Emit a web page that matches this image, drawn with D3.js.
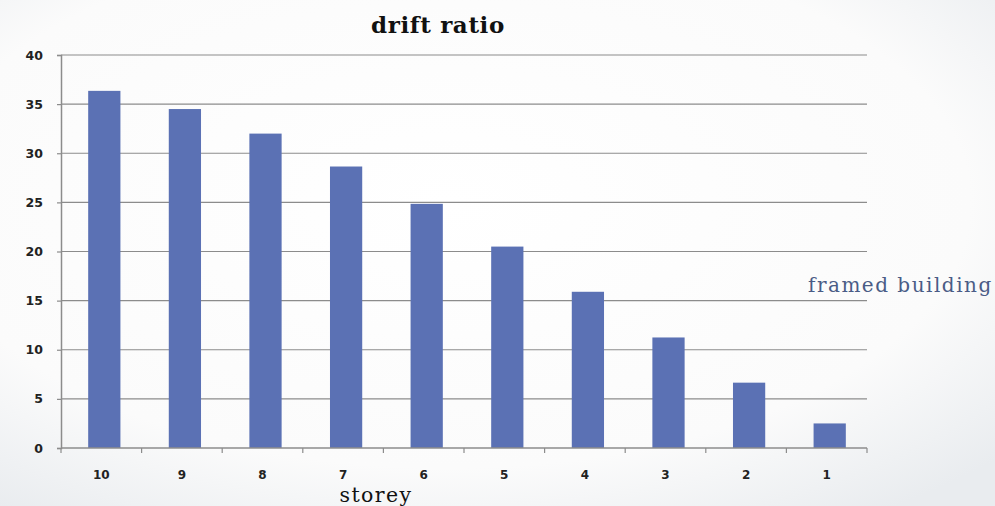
<!DOCTYPE html>
<html>
<head>
<meta charset="utf-8">
<script src="https://cdn.jsdelivr.net/npm/d3@7/dist/d3.min.js"></script>
<style>
  body { margin: 0; overflow: hidden; }
  #viz { width: 995px; height: 506px; }
</style>
</head>
<body>
<div id="viz"></div>
<script>
var storeys = ['10', '9', '8', '7', '6', '5', '4', '3', '2', '1'];
var driftValues = [36.35, 34.5, 32.0, 28.65, 24.85, 20.5, 15.9, 11.25, 6.65, 2.5];
var yTicks = [0, 5, 10, 15, 20, 25, 30, 35, 40];

function makeChart() {
    var width = 995;
    var height = 506;
    var margin = { top: 55, right: 128, bottom: 58, left: 61 };

    var svg = d3.select('#viz')
        .append('svg')
        .attr('width', width)
        .attr('height', height);

    // slide background, light grey toward the edges
    var defs = svg.append('defs');
    var grad = defs.append('radialGradient')
        .attr('id', 'bg')
        .attr('cx', '45%').attr('cy', '40%').attr('r', '75%');
    grad.append('stop').attr('offset', '0%').attr('stop-color', '#ffffff');
    grad.append('stop').attr('offset', '70%').attr('stop-color', '#fbfbfb');
    grad.append('stop').attr('offset', '100%').attr('stop-color', '#e9ecef');
    svg.append('rect')
        .attr('width', width).attr('height', height)
        .attr('fill', 'url(#bg)');

    var plotW = width - margin.left - margin.right;
    var plotH = height - margin.top - margin.bottom;

    var g = svg.append('g')
        .attr('transform', 'translate(' + margin.left + ',' + margin.top + ')');

    var x = d3.scaleBand()
        .domain(storeys)
        .range([0, plotW])
        .paddingInner(0.6)
        .paddingOuter(0.3);

    var y = d3.scaleLinear()
        .domain([0, 40])
        .range([plotH, 0]);

    // gridlines
    g.selectAll('line.grid')
        .data(yTicks.filter(function (d) { return d > 0; }))
        .enter()
        .append('line')
        .attr('class', 'grid')
        .attr('x1', 0)
        .attr('x2', plotW)
        .attr('y1', function (d) { return y(d); })
        .attr('y2', function (d) { return y(d); })
        .attr('stroke', '#8c8c8c')
        .attr('stroke-width', 1.2);

    // bars
    g.selectAll('rect.bar')
        .data(driftValues)
        .enter()
        .append('rect')
        .attr('class', 'bar')
        .attr('x', function (d, i) { return x(storeys[i]) + 3; })
        .attr('y', function (d) { return y(d); })
        .attr('width', x.bandwidth())
        .attr('height', function (d) { return plotH - y(d); })
        .attr('fill', '#5b71b4');

    // y axis
    var yAxis = g.append('g')
        .call(d3.axisLeft(y).tickValues(yTicks).tickSize(4).tickPadding(14));
    yAxis.select('.domain').attr('stroke', '#8c8c8c').attr('stroke-width', 1.5);
    yAxis.selectAll('.tick line').attr('stroke', '#8c8c8c').attr('stroke-width', 1.2);
    yAxis.selectAll('.tick text')
        .attr('font-family', 'DejaVu Sans')
        .attr('font-weight', 'bold')
        .attr('font-size', 12.5)
        .attr('fill', '#222');

    // x axis with ticks between categories
    var xAxisG = g.append('g')
        .attr('transform', 'translate(0,' + plotH + ')');
    xAxisG.append('line')
        .attr('x1', 0).attr('x2', plotW)
        .attr('stroke', '#8c8c8c').attr('stroke-width', 1.5);
    var step = x.step();
    xAxisG.selectAll('line.xtick')
        .data(d3.range(storeys.length + 1))
        .enter()
        .append('line')
        .attr('class', 'xtick')
        .attr('x1', function (i) { return i * step; })
        .attr('x2', function (i) { return i * step; })
        .attr('y1', 0).attr('y2', 5)
        .attr('stroke', '#8c8c8c').attr('stroke-width', 1.2);
    xAxisG.selectAll('text.xlabel')
        .data(storeys)
        .enter()
        .append('text')
        .attr('class', 'xlabel')
        .attr('x', function (d) { return x(d) + x.bandwidth() / 2; })
        .attr('y', 31)
        .attr('text-anchor', 'middle')
        .attr('font-family', 'DejaVu Sans')
        .attr('font-weight', 'bold')
        .attr('font-size', 12)
        .attr('fill', '#222')
        .text(function (d) { return d; });

    // title
    svg.append('text')
        .attr('x', 438)
        .attr('y', 33)
        .attr('text-anchor', 'middle')
        .attr('font-family', 'DejaVu Serif')
        .attr('font-weight', 'bold')
        .attr('font-size', 23)
        .attr('letter-spacing', 0.6)
        .attr('fill', '#111')
        .text('drift ratio');

    // x axis title, at the bottom edge
    svg.append('text')
        .attr('x', 376)
        .attr('y', 502)
        .attr('text-anchor', 'middle')
        .attr('font-family', 'DejaVu Serif')
        .attr('font-size', 20.5)
        .attr('letter-spacing', 1.4)
        .attr('fill', '#111')
        .text('storey');

    // series label
    svg.append('text')
        .attr('x', 808)
        .attr('y', 292)
        .attr('font-family', 'DejaVu Serif')
        .attr('font-size', 20)
        .attr('letter-spacing', 1.5)
        .attr('fill', '#4a5c86')
        .text('framed building');
}

makeChart();
</script>
</body>
</html>
